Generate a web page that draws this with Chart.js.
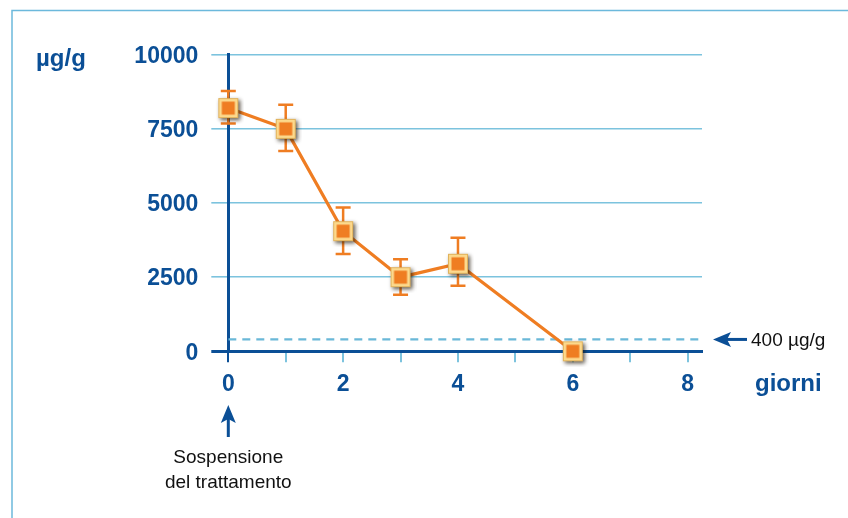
<!DOCTYPE html>
<html>
<head>
<meta charset="utf-8">
<script src="https://cdn.jsdelivr.net/npm/chart.js@4/dist/chart.umd.min.js"></script>
<style>
  html, body { margin: 0; padding: 0; background: #ffffff; }
  #wrap { width: 848px; height: 518px; position: relative; }
</style>
</head>
<body>
<div id="wrap"><canvas id="c" width="848" height="518"></canvas></div>
<script>
// Concentration (µg/g) measured on days after treatment stops
const days = [0, 1, 2, 3, 4, 6];
const concentration = [8200, 7500, 4050, 2500, 2950, 0];
const errUpper = [8780, 8310, 4850, 3100, 3830, null];
const errLower = [7680, 6750, 3280, 1910, 2210, null];
const threshold = 400;
const thresholdLabel = '400 µg/g';
const xTickValues = [0, 2, 4, 6, 8];
const yTickValues = [0, 2500, 5000, 7500, 10000];
const unitLabel = 'µg/g';
const xTitle = 'giorni';
const eventLabel = ['Sospensione', 'del trattamento'];

const DARK = '#0b4f96';
const GRID = '#7cc3de';
const FRAME = '#6cb9dc';
const ORANGE = '#ef7d22';
const FONT = '"Liberation Sans", Arial, sans-serif';

// square marker with a soft shadow
function makeMarker() {
  const s = 32, c = document.createElement('canvas');
  c.width = s; c.height = s;
  const g = c.getContext('2d');
  const o = 20, half = s / 2;
  g.save();
  g.shadowColor = 'rgba(30,20,5,0.7)';
  g.shadowBlur = 4;
  g.shadowOffsetX = 2;
  g.shadowOffsetY = 2;
  g.fillStyle = '#fcd98c';
  g.fillRect(half - o / 2, half - o / 2, o, o);
  g.restore();
  g.strokeStyle = '#e0b25c';
  g.lineWidth = 1;
  g.strokeRect(half - o / 2 + 0.5, half - o / 2 + 0.5, o - 1, o - 1);
  g.fillStyle = ORANGE;
  g.fillRect(half - 6.5, half - 6.5, 13, 13);
  return c;
}
const marker = makeMarker();

const points = days.map((d, i) => ({ x: d, y: concentration[i] }));

const errorBars = {
  id: 'errorBars',
  beforeDatasetsDraw(chart) {
    const { ctx, scales: { x, y } } = chart;
    ctx.save();
    ctx.strokeStyle = ORANGE;
    ctx.lineWidth = 2.5;
    days.forEach((d, i) => {
      if (errUpper[i] == null) return;
      const px = x.getPixelForValue(d);
      const top = y.getPixelForValue(errUpper[i]);
      const bot = y.getPixelForValue(errLower[i]);
      ctx.beginPath();
      ctx.moveTo(px, top); ctx.lineTo(px, bot);
      ctx.moveTo(px - 7.5, top); ctx.lineTo(px + 7.5, top);
      ctx.moveTo(px - 7.5, bot); ctx.lineTo(px + 7.5, bot);
      ctx.stroke();
    });
    ctx.restore();
  }
};

const decorations = {
  id: 'decorations',
  afterDraw(chart) {
    const { ctx, scales: { x, y } } = chart;
    ctx.save();
    // frame
    ctx.strokeStyle = FRAME;
    ctx.lineWidth = 1.5;
    ctx.beginPath();
    ctx.moveTo(12, 518); ctx.lineTo(12, 10.5); ctx.lineTo(848, 10.5);
    ctx.stroke();

    // unit label
    ctx.fillStyle = DARK;
    ctx.font = 'bold 24px ' + FONT;
    ctx.textBaseline = 'middle';
    ctx.textAlign = 'left';
    ctx.fillText(unitLabel, 36, 59);

    // x axis title
    ctx.fillText(xTitle, 755, 384);

    // threshold arrow + label
    const ty = y.getPixelForValue(threshold);
    ctx.strokeStyle = DARK;
    ctx.fillStyle = DARK;
    ctx.lineWidth = 3;
    ctx.beginPath();
    ctx.moveTo(747, ty); ctx.lineTo(722, ty);
    ctx.stroke();
    ctx.beginPath();
    ctx.moveTo(713, ty); ctx.lineTo(731, ty - 7.5); ctx.lineTo(727, ty); ctx.lineTo(731, ty + 7.5);
    ctx.closePath(); ctx.fill();
    ctx.fillStyle = '#111111';
    ctx.font = '19px ' + FONT;
    ctx.fillText(thresholdLabel, 751, ty + 1);

    // event arrow under day 0
    const ex = x.getPixelForValue(0);
    ctx.fillStyle = DARK;
    ctx.beginPath();
    ctx.moveTo(ex, 437); ctx.lineTo(ex, 414);
    ctx.stroke();
    ctx.beginPath();
    ctx.moveTo(ex, 405); ctx.lineTo(ex - 7.5, 423); ctx.lineTo(ex, 419); ctx.lineTo(ex + 7.5, 423);
    ctx.closePath(); ctx.fill();

    ctx.fillStyle = '#111111';
    ctx.font = '19px ' + FONT;
    ctx.textAlign = 'center';
    ctx.textBaseline = 'alphabetic';
    ctx.fillText(eventLabel[0], ex, 463);
    ctx.fillText(eventLabel[1], ex, 488);
    ctx.restore();
  }
};

new Chart(document.getElementById('c'), {
  type: 'line',
  data: {
    datasets: [
      {
        label: 'soglia',
        data: [{ x: 0, y: threshold }, { x: 8.25, y: threshold }],
        borderColor: '#6ab8d8',
        borderWidth: 2.2,
        borderDash: [8, 6],
        pointRadius: 0,
        order: 2
      },
      {
        label: 'concentrazione',
        data: points,
        borderColor: ORANGE,
        borderWidth: 3.2,
        pointStyle: marker,
        pointRadius: 10,
        pointHoverRadius: 10,
        tension: 0,
        clip: false,
        order: 1
      }
    ]
  },
  options: {
    responsive: false,
    animation: false,
    events: [],
    layout: { padding: { left: 0, top: 54.7, right: 146, bottom: 0 } },
    plugins: { legend: { display: false }, tooltip: { enabled: false } },
    scales: {
      x: {
        type: 'linear',
        min: 0,
        max: 8.25,
        afterFit(s) { s.height = 166.7; },
        afterBuildTicks(s) { s.ticks = [0,1,2,3,4,5,6,7,8].map(v => ({ value: v })); },
        ticks: {
          includeBounds: false,
          padding: 9,
          color: DARK,
          font: { family: FONT, size: 23, weight: 'bold' },
          maxRotation: 0,
          autoSkip: false,
          callback: v => (xTickValues.includes(v) ? String(v) : '')
        },
        border: { display: true, color: DARK, width: 3 },
        grid: {
          drawOnChartArea: false,
          drawTicks: true,
          tickLength: 11,
          lineWidth: 2,
          color: c => (c.tick && c.tick.value === 0 ? DARK : GRID)
        }
      },
      y: {
        type: 'linear',
        min: 0,
        max: 10000,
        afterFit(s) { s.width = 228.3; },
        afterBuildTicks(s) { s.ticks = yTickValues.map(v => ({ value: v })); },
        ticks: {
          padding: 13,
          labelOffset: 2,
          color: DARK,
          font: { family: FONT, size: 23, weight: 'bold' },
          callback: v => String(v)
        },
        border: { display: true, color: DARK, width: 3 },
        grid: {
          drawTicks: true,
          tickLength: 17,
          lineWidth: c => (c.tick && c.tick.value === 0 ? 3 : 1.6),
          color: c => (c.tick && c.tick.value === 0 ? DARK : GRID)
        }
      }
    }
  },
  plugins: [errorBars, decorations]
});
</script>
</body>
</html>
